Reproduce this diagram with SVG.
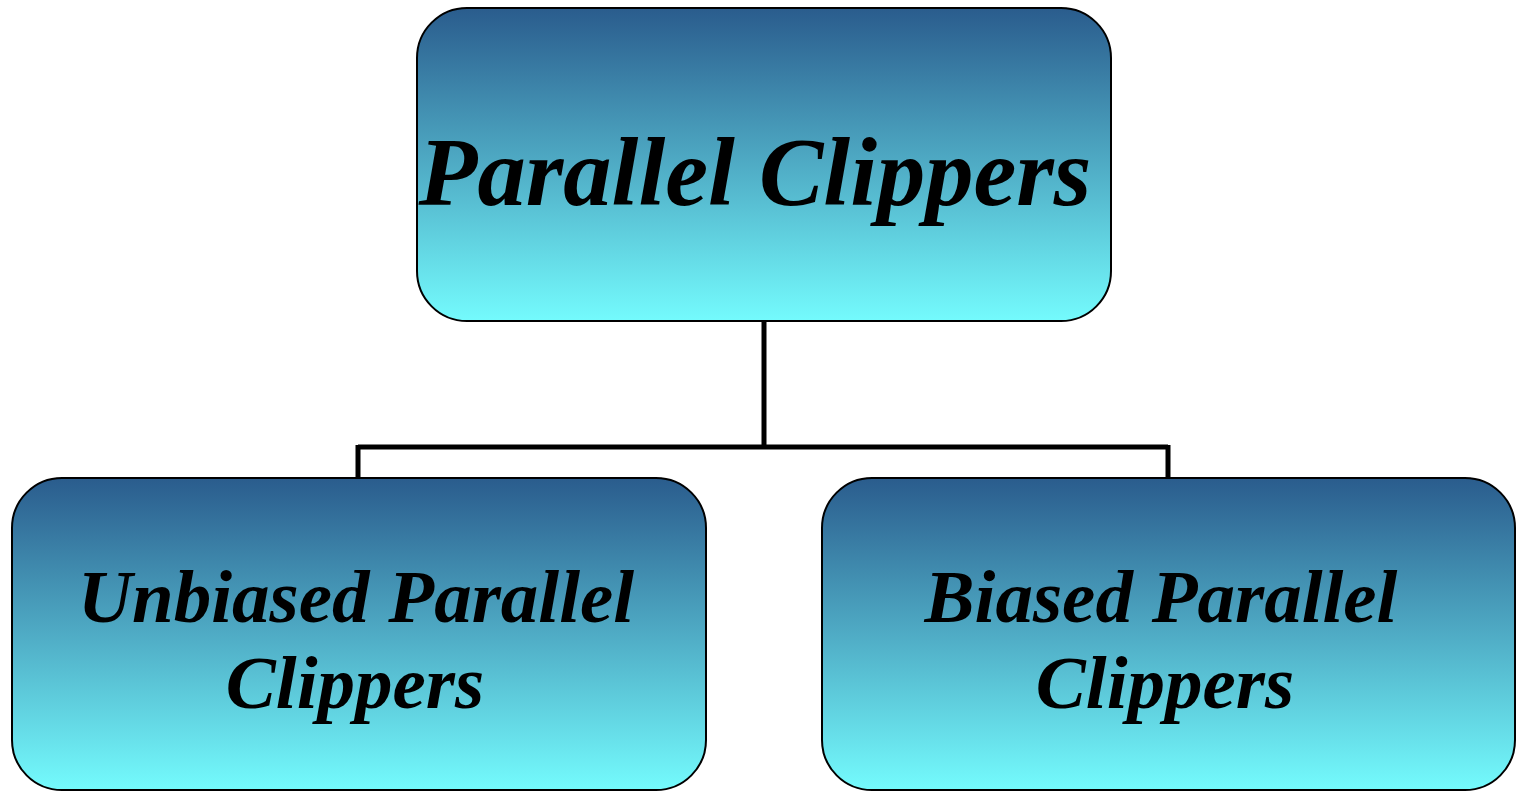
<svg xmlns="http://www.w3.org/2000/svg" width="1516" height="791" viewBox="0 0 1516 791">
<defs>
<linearGradient id="g" x1="0" y1="0" x2="0" y2="1">
<stop offset="0" stop-color="#2A5C8D"/>
<stop offset="1" stop-color="#74FBFD"/>
</linearGradient>
<style>
.box{fill:url(#g);stroke:#000;stroke-width:2}
.t{font-family:"Liberation Serif","Times New Roman",serif;font-weight:bold;font-style:italic;fill:#000;text-anchor:middle}
.c{fill:none;stroke:#000;stroke-width:5}
</style>
</defs>
<g id="connectors">
<path class="c" d="M764 321 V447 M358 447 H1168 M358 445 V478 M1168 445 V478"/>
</g>
<g id="root">
<rect class="box" x="417" y="8" width="694" height="313" rx="50" ry="50"/>
<text class="t" x="755" y="205" font-size="96.5">Parallel Clippers</text>
</g>
<g id="unbiased">
<rect class="box" x="12" y="478" width="694" height="312" rx="50" ry="50"/>
<text class="t" x="356" y="622" font-size="75">Unbiased Parallel</text>
<text class="t" x="355" y="708" font-size="75">Clippers</text>
</g>
<g id="biased">
<rect class="box" x="822" y="478" width="693" height="312" rx="50" ry="50"/>
<text class="t" x="1161" y="622" font-size="75">Biased Parallel</text>
<text class="t" x="1165" y="708" font-size="75">Clippers</text>
</g>
</svg>
